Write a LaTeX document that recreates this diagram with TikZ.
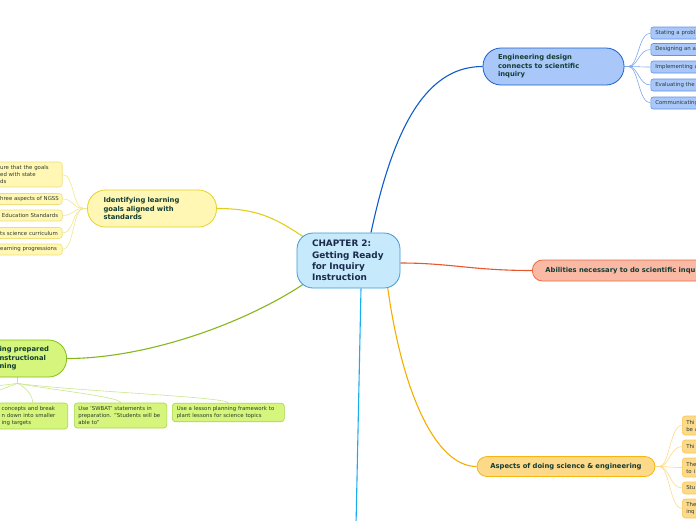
\documentclass[tikz,border=0pt]{standalone}
\usepackage{fontspec}
\setmainfont{DejaVu Sans}
\usetikzlibrary{calc,backgrounds}
\definecolor{cfill}{HTML}{C6E9FB}
\definecolor{cdraw}{HTML}{3D9AD9}
\definecolor{ctext}{HTML}{1A2B4C}
\definecolor{mtext}{HTML}{123D33}
\definecolor{stext}{HTML}{2E3A30}
\definecolor{bfill}{HTML}{A9C8F9}
\definecolor{bdraw}{HTML}{1A5FD0}
\definecolor{bsub}{HTML}{5F94E6}
\definecolor{bline}{HTML}{0D5CCB}
\definecolor{bsline}{HTML}{7FA8EC}
\definecolor{sfill}{HTML}{F9B9A5}
\definecolor{sdraw}{HTML}{EE6A3E}
\definecolor{sline}{HTML}{E9552D}
\definecolor{ofill}{HTML}{FDD98A}
\definecolor{odraw}{HTML}{F6B60F}
\definecolor{osub}{HTML}{F8C64F}
\definecolor{oline}{HTML}{F5AE00}
\definecolor{osline}{HTML}{FCDA8E}
\definecolor{yfill}{HTML}{FFF7B3}
\definecolor{ydraw}{HTML}{E6D22C}
\definecolor{ysub}{HTML}{EDE07A}
\definecolor{yline}{HTML}{E5CE17}
\definecolor{ysline}{HTML}{F2E68A}
\definecolor{gfill}{HTML}{D5F57D}
\definecolor{gdraw}{HTML}{85BF1C}
\definecolor{gsub}{HTML}{A6D64A}
\definecolor{gline}{HTML}{86B71A}
\definecolor{gsline}{HTML}{C9E68E}
\definecolor{dline}{HTML}{1AADEE}
\tikzset{
  bx/.style={rectangle, align=left, inner ysep=0pt, line width=0.8pt},
  mainbox/.style={bx, text=mtext, font=\fontsize{6.8}{8.6}\selectfont\bfseries},
  subbox/.style={bx, text=stext, line width=0.6pt, font=\fontsize{5.4}{7}\selectfont},
  mainline/.style={line width=1.1pt},
  subline/.style={line width=0.6pt},
}
\begin{document}
\begin{tikzpicture}[x=1pt,y=-1pt]
\useasboundingbox (0,0) rectangle (696,520);
\clip (0,0) rectangle (696,520);

% central node
\node[bx, fill=cfill, draw=cdraw, rounded corners=16pt, minimum height=55pt, text width=73pt, inner xsep=15pt,
  text=ctext, font=\fontsize{8.9}{11.2}\selectfont\bfseries] (c) at (348.5,260.5)
  {\mbox{CHAPTER 2:}\\\mbox{Getting Ready}\\\mbox{for Inquiry}\\\mbox{Instruction}};

% blue branch
\node[mainbox, fill=bfill, draw=bdraw, rounded corners=18pt, minimum height=37pt, text width=111pt, inner xsep=15pt] (bm) at (553.5,66.5)
  {\mbox{Engineering design}\\\mbox{connects to scientific}\\\mbox{inquiry}};
\foreach \n/\y/\t in {b1/33/Stating a probl, b2/49.5/Designing an a, b3/67/Implementing a, b4/85/Evaluating the, b5/103/Communicating}
  \node[subbox, fill=bfill, draw=bsub, rounded corners=2.5pt, minimum height=12pt, text width=91pt, inner xsep=4.5pt, anchor=west] (\n) at (650.5,\y) {\mbox{\t}};

% salmon branch
\node[mainbox, fill=sfill, draw=sdraw, rounded corners=10pt, minimum height=21pt, text width=220pt, inner xsep=13pt, anchor=west] (sal) at (532,270.5)
  {\mbox{Abilities necessary to do scientific inqu}};

% orange branch
\node[mainbox, fill=ofill, draw=odraw, align=center, rounded corners=10pt, minimum height=20pt, text width=154pt, inner xsep=12pt] (om) at (566,466.5)
  {\mbox{Aspects of doing science \& engineering}};
\node[subbox, fill=ofill, draw=osub, rounded corners=3pt, minimum height=19pt, text width=60pt, inner xsep=4pt, anchor=west] (o1) at (682,425.5) {Thi\\be a};
\node[subbox, fill=ofill, draw=osub, rounded corners=3pt, minimum height=13pt, text width=60pt, inner xsep=4pt, anchor=west] (o2) at (682,446.5) {Thi};
\node[subbox, fill=ofill, draw=osub, rounded corners=3pt, minimum height=19pt, text width=60pt, inner xsep=4pt, anchor=west] (o3) at (682,467.5) {The\\to i};
\node[subbox, fill=ofill, draw=osub, rounded corners=3pt, minimum height=12pt, text width=60pt, inner xsep=4pt, anchor=west] (o4) at (682,488) {Stu};
\node[subbox, fill=ofill, draw=osub, rounded corners=3pt, minimum height=19pt, text width=60pt, inner xsep=4pt, anchor=west] (o5) at (682,508.5) {The\\inq};

% yellow branch
\node[mainbox, fill=yfill, draw=ydraw, rounded corners=18pt, minimum height=37pt, text width=97pt, inner xsep=16pt] (ym) at (152,208.5)
  {\mbox{Identifying learning}\\\mbox{goals aligned with}\\\mbox{standards}};
\node[subbox, fill=yfill, draw=ysub, rounded corners=3pt, minimum height=25pt, text width=58pt, inner xsep=4pt, anchor=east] (y1) at (62.5,174.5)
  {\mbox{ure that the goals}\\\mbox{ed with state}\\\mbox{ds}};
\foreach \n/\y/\t in {y2/199/hree aspects of NGSS, y3/215.5/\ Education Standards, y4/233/ts science curriculum, y5/249.5/earning progressions}
  \node[subbox, fill=yfill, draw=ysub, rounded corners=3pt, minimum height=11pt, text width=58pt, inner xsep=4pt, anchor=east] (\n) at (62.5,\y) {\mbox{\t}};

% green branch
\node[mainbox, fill=gfill, draw=gdraw, rounded corners=18pt, minimum height=37pt, text width=50pt, inner xsep=17pt, anchor=east] (gm) at (67,358.5)
  {\mbox{ing prepared}\\\mbox{nstructional}\\\mbox{ning}};
\node[subbox, fill=gfill, draw=gsub, rounded corners=3pt, minimum height=26pt, text width=62pt, inner xsep=4pt, anchor=east] (g1) at (68,416)
  {\mbox{concepts and break}\\\mbox{n down into smaller}\\\mbox{ing targets}};
\node[subbox, fill=gfill, draw=gsub, rounded corners=3pt, minimum height=25pt, text width=84.5pt, inner xsep=4pt, anchor=west] (g2) at (74,415.5)
  {\mbox{Use 'SWBAT' statements in}\\\mbox{preparation. "Students will be}\\\mbox{able to"}};
\node[subbox, fill=gfill, draw=gsub, rounded corners=3pt, minimum height=18.5pt, text width=103pt, inner xsep=4.5pt, anchor=west] (g3) at (172,412.5)
  {\mbox{Use a lesson planning framework to}\\\mbox{plant lessons for science topics}};

\coordinate (bend) at (356,526);
\coordinate (gst) at ($(gm.south)+(-7,6)$);
\coordinate (gl1) at (-40,403);
\coordinate (gl2) at (-140,403);

\begin{scope}[on background layer]
  % main connectors
  \draw[mainline, bline] ($(c.north)+(22.5,0)$) .. controls +(24,-113) and +(-53,0) .. (bm.west);
  \draw[mainline, sline] ($(c.east)+(0,2.5)$) .. controls +(50,0) and +(-60,0) .. (sal.west);
  \draw[mainline, oline] ($(c.south east)+(-13,-3)$) .. controls +(15,110) and +(-40,0) .. (om.west);
  \draw[mainline, yline] ($(c.north west)+(8,5)$) .. controls +(-30,-20) and +(40,0) .. (ym.east);
  \draw[mainline, gline] ($(c.south west)+(8,-5)$) .. controls +(-60,40) and +(80,0) .. (gm.east);
  \draw[mainline, dline] ($(c.south)+(12.5,0)$) -- (bend);
  % blue sub connectors
  \foreach \n in {b1,b2,b3,b4,b5}
    \draw[subline, bsline] (bm.east) -- ++(4,0) .. controls +(10,0) and +(-12,0) .. (\n.west);
  % orange sub connectors
  \foreach \n in {o1,o2,o3,o4,o5}
    \draw[subline, osline] (om.east) -- ++(4,0) .. controls +(10,0) and +(-12,0) .. (\n.west);
  % yellow sub connectors
  \foreach \n in {y1,y2,y3,y4,y5}
    \draw[subline, ysline] (ym.west) -- ++(-3,0) .. controls +(-12,0) and +(12,0) .. (\n.east);
  % green sub connectors
  \draw[subline, gsline] ($(gm.south)+(-7,0)$) -- (gst);
  \draw[subline, gsline] (gst) .. controls +(8,4) and +(0,-8) .. (g1.north);
  \draw[subline, gsline] (gst) .. controls +(30,6) and +(0,-6) .. (g2.north);
  \draw[subline, gsline] (gst) .. controls +(60,8) and +(0,-6) .. (g3.north);
  \draw[subline, gsline] (gst) .. controls +(-15,5) and +(20,-4) .. (gl1);
  \draw[subline, gsline] (gst) .. controls +(-25,3) and +(40,-6) .. (gl2);
\end{scope}
\end{tikzpicture}
\end{document}
